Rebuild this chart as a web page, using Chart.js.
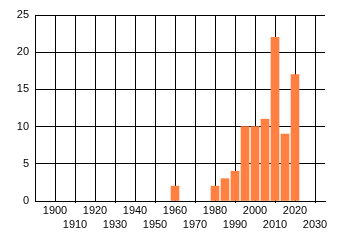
<!DOCTYPE html>
<html>
<head>
<meta charset="utf-8">
<script src="https://cdn.jsdelivr.net/npm/chart.js@4/dist/chart.umd.min.js"></script>
<style>
  html, body { margin: 0; padding: 0; background: #fff; }
  #wrap { width: 340px; height: 245px; }
</style>
</head>
<body>
<div id="wrap"><canvas id="c" width="340" height="245"></canvas></div>
<script>
const years = [1960, 1980, 1985, 1990, 1995, 2000, 2005, 2010, 2015, 2020];
const counts = [2, 2, 3, 4, 10, 10, 11, 22, 9, 17];
const xTicks = [1900, 1910, 1920, 1930, 1940, 1950, 1960, 1970, 1980, 1990, 2000, 2010, 2020, 2030];
const yTicks = [0, 5, 10, 15, 20, 25];

const font = { family: "'Liberation Sans', Arial, sans-serif", size: 11, lineHeight: 1.36 };

new Chart(document.getElementById('c'), {
  type: 'bar',
  data: {
    datasets: [{
      data: years.map((x, i) => ({ x: x, y: counts[i] })),
      backgroundColor: '#FF8040',
      borderWidth: 0,
      barThickness: 8
    }]
  },
  options: {
    responsive: false,
    animation: false,
    layout: { padding: { top: 15, right: 15, left: 0, bottom: 0 } },
    plugins: { legend: { display: false }, tooltip: { enabled: false } },
    scales: {
      x: {
        type: 'linear',
        offset: false,
        min: 1890,
        max: 2035,
        afterBuildTicks: s => { s.ticks = xTicks.map(v => ({ value: v })); },
        afterFit: s => { s.height = 44; },
        ticks: {
          autoSkip: false,
          maxRotation: 0,
          minRotation: 0,
          padding: 0,
          color: '#000',
          font: font,
          callback: v => (Math.round(v / 10) % 2 === 0 ? String(v) : ['', String(v)])
        },
        grid: {
          offset: false,
          color: '#000',
          lineWidth: 1,
          drawTicks: true,
          tickLength: 2,
          tickColor: ctx => (ctx.tick && Math.round(ctx.tick.value / 10) % 2 === 1) ? '#000' : 'rgba(0,0,0,0)'
        },
        border: { display: true, color: '#000', width: 1 }
      },
      y: {
        min: 0,
        max: 25,
        afterBuildTicks: s => { s.ticks = yTicks.map(v => ({ value: v })); },
        afterFit: s => { s.width = 35; },
        ticks: { padding: 6, color: '#000', font: font },
        grid: { color: '#000', lineWidth: 1, drawTicks: false },
        border: { display: true, color: '#000', width: 1 }
      }
    }
  }
});
</script>
</body>
</html>
